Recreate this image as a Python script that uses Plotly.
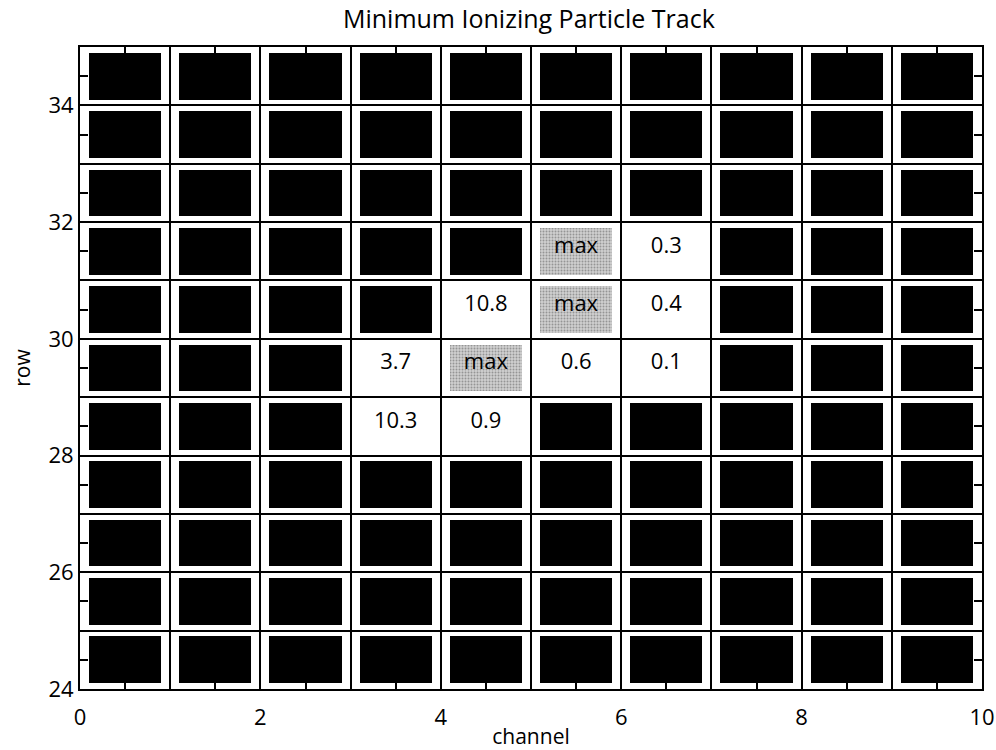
import plotly.graph_objects as go

# Detector geometry: channel columns and pad rows shown in the window
channels = list(range(0, 10))
rows = list(range(24, 35))

# Pads that recorded charge along the track (channel, row, label)
hit_channel = [5, 6, 4, 5, 6, 3, 4, 5, 6, 3, 4]
hit_row = [31, 31, 30, 30, 30, 29, 29, 29, 29, 28, 28]
hit_label = ["max", "0.3", "10.8", "max", "0.4", "3.7", "max", "0.6", "0.1", "10.3", "0.9"]

x_tick_vals = list(range(0, 11))
x_tick_text = [str(v) if v % 2 == 0 else "" for v in x_tick_vals]
y_tick_vals = list(range(24, 36))
y_tick_text = [str(v) if v % 2 == 0 else "" for v in y_tick_vals]

FONT = "Open Sans"
INSET = 0.1

hits = {(c, r): lab for c, r, lab in zip(hit_channel, hit_row, hit_label)}

dead_x, dead_y = [], []
max_x, max_y = [], []
num_x, num_y, num_t = [], [], []
for r in rows:
    for c in channels:
        lab = hits.get((c, r))
        if lab is None:
            dead_x.append(c + 0.5)
            dead_y.append(r)
        elif lab == "max":
            max_x.append(c + 0.5)
            max_y.append(r)
        else:
            num_x.append(c + 0.5)
            num_y.append(r)
            num_t.append(lab)

fig = go.Figure()

# Pads without signal: solid black blocks
fig.add_trace(go.Bar(
    x=dead_x, y=[1 - 2 * INSET] * len(dead_x),
    base=[r + INSET for r in dead_y], width=1 - 2 * INSET,
    marker=dict(color="black", line=dict(width=0)),
    hoverinfo="skip", showlegend=False,
))

# Saturated pads: stippled grey blocks
fig.add_trace(go.Bar(
    x=max_x, y=[1 - 2 * INSET] * len(max_x),
    base=[r + INSET for r in max_y], width=1 - 2 * INSET,
    marker=dict(color="#c8c8c8", line=dict(width=0),
                pattern=dict(shape=".", fgcolor="#5a5a5a", bgcolor="#d0d0d0",
                             size=3, solidity=0.35)),
    hoverinfo="skip", showlegend=False,
))

# Labels inside the pads
fig.add_trace(go.Scatter(
    x=max_x + num_x,
    y=[r + 0.57 for r in max_y + num_y],
    text=["max"] * len(max_x) + num_t,
    mode="text",
    textfont=dict(family=FONT, size=22, color="black"),
    hoverinfo="skip", showlegend=False,
))

axis_common = dict(
    showline=True, linecolor="black", linewidth=2, mirror="allticks",
    showgrid=True, gridcolor="black", gridwidth=2,
    ticks="", zeroline=False, automargin=False,
    tickfont=dict(family=FONT, size=22, color="black"),
    minor=dict(tick0=0.5, dtick=1, ticks="inside", ticklen=8,
               tickwidth=2, tickcolor="black", showgrid=False),
)

fig.update_xaxes(range=[0, 10], tickmode="array", tickvals=x_tick_vals,
                 ticktext=x_tick_text, ticklabelstandoff=8,
                 title=dict(text="channel", standoff=6,
                            font=dict(family=FONT, size=21, color="black")),
                 **axis_common)
fig.update_yaxes(range=[24, 35], tickmode="array", tickvals=y_tick_vals,
                 ticktext=y_tick_text,
                 title=dict(text="row", standoff=12,
                            font=dict(family=FONT, size=21, color="black")),
                 **axis_common)

fig.update_layout(
    width=996, height=750,
    margin=dict(l=80, r=14, t=47, b=61),
    paper_bgcolor="white", plot_bgcolor="white",
    barmode="overlay", bargap=0,
    title=dict(text="Minimum Ionizing Particle Track", x=0.531, xanchor="center",
               y=0.975, yanchor="middle",
               font=dict(family=FONT, size=25, color="black")),
)

fig.write_html("out.html")
